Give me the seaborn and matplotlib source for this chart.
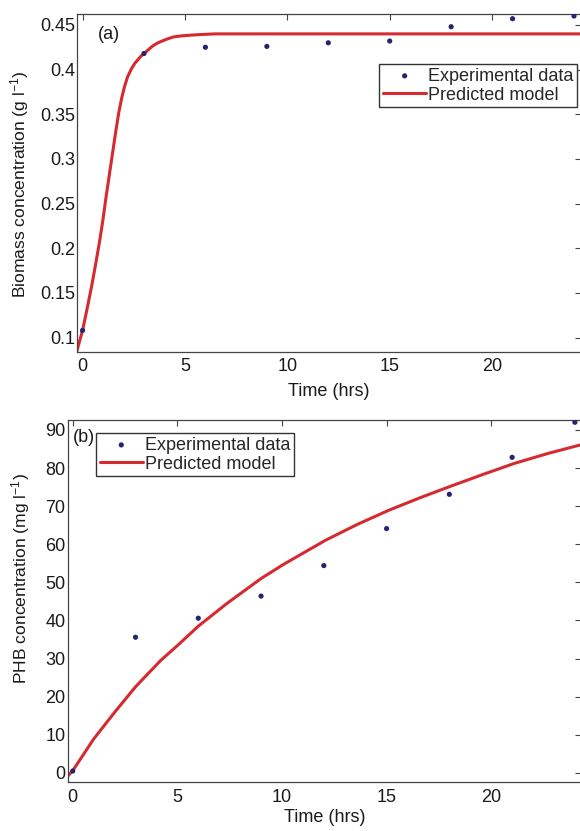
"""
Biomass and PHB time courses: experimental points vs predicted model curve.
"""

import matplotlib
matplotlib.use("Agg")
import matplotlib.pyplot as plt
import pandas as pd
import seaborn as sns

# ---- panel (a): biomass ----
biomass_t = [0, 3, 6, 9, 12, 15, 18, 21, 24]
biomass_obs = [0.108, 0.418, 0.425, 0.426, 0.430, 0.432, 0.448, 0.457, 0.460]

biomass_model_t = [-0.3, 0.0, 0.22, 0.44, 0.63, 0.82, 0.99, 1.14, 1.30, 1.45, 1.61,
                   1.77, 1.91, 2.05, 2.2, 2.39, 2.55, 2.7, 2.85, 3.0, 3.2, 3.4, 3.6,
                   3.78, 4.1, 4.43, 4.8, 5.24, 5.8, 6.5, 24.5]
biomass_model = [0.083, 0.108, 0.132, 0.157, 0.181, 0.206, 0.231, 0.256, 0.281, 0.304, 0.329,
                 0.352, 0.368, 0.381, 0.392, 0.401, 0.407, 0.411, 0.415, 0.418, 0.422, 0.426, 0.429,
                 0.431, 0.434, 0.4365, 0.4377, 0.4385, 0.4393, 0.440, 0.440]

# ---- panel (b): PHB ----
phb_t = [0, 3, 6, 9, 12, 15, 18, 21, 24]
phb_obs = [0.5, 35.6, 40.6, 46.4, 54.4, 64.1, 73.1, 82.8, 92.0]

phb_model_t = [-0.3, 0.0, 1.0, 2.0, 3.0, 4.2, 5.0, 6.0, 7.4, 9.0, 10.1, 12.1,
               13.6, 15.1, 16.6, 18.1, 19.6, 21.1, 22.7, 24.5]
phb_model = [-1.2, 0.6, 8.9, 15.9, 22.6, 29.5, 33.4, 38.5, 44.6, 51.0, 54.8, 61.1,
             65.2, 68.9, 72.2, 75.3, 78.3, 81.2, 83.8, 86.4]

X_TICKS = [0, 5, 10, 15, 20]
A_YTICKS = [0.1, 0.15, 0.2, 0.25, 0.3, 0.35, 0.4, 0.45]
A_YLABELS = ["0.1", "0.15", "0.2", "0.25", "0.3", "0.35", "0.4", "0.45"]
B_YTICKS = [0, 10, 20, 30, 40, 50, 60, 70, 80, 90]

RED = "#d42a30"
NAVY = "#25256e"


def style_axes(ax):
    for side in ["top", "bottom", "left", "right"]:
        ax.spines[side].set_color("#444444")
        ax.spines[side].set_linewidth(0.9)
    ax.tick_params(direction="in", length=4, width=0.8, color="#444444",
                   top=True, right=True, labelsize=13, labelcolor="#1a1a1a")
    ax.tick_params(axis="x", pad=4.5)
    ax.tick_params(axis="y", pad=1.5)


def draw_panel(ax, t_obs, y_obs, t_mod, y_mod):
    df_mod = pd.DataFrame({"t": t_mod, "y": y_mod})
    df_obs = pd.DataFrame({"t": t_obs, "y": y_obs})
    sns.lineplot(data=df_mod, x="t", y="y", ax=ax, color=RED, linewidth=2.2,
                 label="Predicted model", zorder=2)
    sns.scatterplot(data=df_obs, x="t", y="y", ax=ax, color=NAVY, s=14,
                    edgecolor="none", label="Experimental data", zorder=3)


def add_legend(ax, loc, anchor):
    h, l = ax.get_legend_handles_labels()
    order = [l.index("Experimental data"), l.index("Predicted model")]
    ax.legend([h[i] for i in order], [l[i] for i in order], loc=loc,
              bbox_to_anchor=anchor, fontsize=13, frameon=True, fancybox=False,
              edgecolor="#333333", framealpha=1, borderpad=0.2, labelspacing=0.12,
              handlelength=2.4, handletextpad=0.1, borderaxespad=0)


def main():
    sns.set_theme(style="white")
    plt.rcParams["font.family"] = ["Liberation Sans", "DejaVu Sans"]
    plt.rcParams["mathtext.default"] = "regular"

    fig = plt.figure(figsize=(5.8, 8.31), dpi=100)
    fig.patch.set_facecolor("white")

    # (a) biomass
    ax1 = fig.add_axes([0.1328, 0.5764, 0.8692, 0.4068])
    draw_panel(ax1, biomass_t, biomass_obs, biomass_model_t, biomass_model)
    ax1.set_xlim(-0.27, 24.35)
    ax1.set_ylim(0.0838, 0.4623)
    ax1.set_xticks(X_TICKS)
    ax1.set_yticks(A_YTICKS)
    ax1.set_yticklabels(A_YLABELS)
    style_axes(ax1)
    ax1.set_xlabel("Time (hrs)", fontsize=13, color="#1a1a1a")
    ax1.set_ylabel("Biomass concentration (g l$^{-1}$)", fontsize=12.6, color="#1a1a1a")
    ax1.xaxis.set_label_coords(0.5, -0.093)
    ax1.yaxis.set_label_coords(-0.092, 0.497)
    ax1.text(0.042, 0.938, "(a)", transform=ax1.transAxes, fontsize=13,
             va="center", ha="left", color="#1a1a1a")
    add_legend(ax1, "upper right", (0.992, 0.852))

    # (b) PHB
    ax2 = fig.add_axes([0.1164, 0.0584, 0.8856, 0.4362])
    draw_panel(ax2, phb_t, phb_obs, phb_model_t, phb_model)
    ax2.set_xlim(-0.25, 24.3)
    ax2.set_ylim(-2.5, 92.6)
    ax2.set_xticks(X_TICKS)
    ax2.set_yticks(B_YTICKS)
    style_axes(ax2)
    ax2.set_xlabel("Time (hrs)", fontsize=13, color="#1a1a1a")
    ax2.set_ylabel("PHB concentration (mg l$^{-1}$)", fontsize=12.6, color="#1a1a1a")
    ax2.xaxis.set_label_coords(0.5, -0.074)
    ax2.yaxis.set_label_coords(-0.069, 0.564)
    ax2.text(0.01, 0.953, "(b)", transform=ax2.transAxes, fontsize=13,
             va="center", ha="left", color="#1a1a1a")
    add_legend(ax2, "upper left", (0.0555, 0.964))

    fig.savefig("out.png", dpi=100)
    plt.close(fig)


if __name__ == "__main__":
    main()
